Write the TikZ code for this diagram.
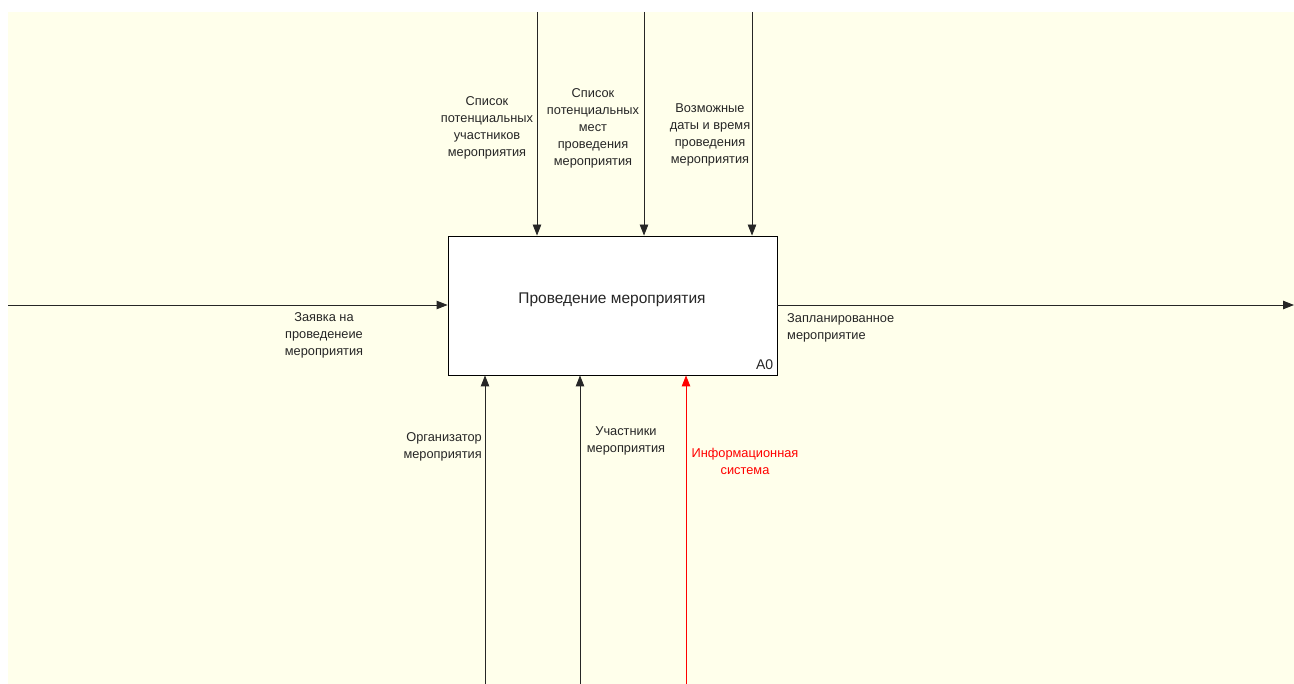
\documentclass[tikz,border=0pt]{standalone}
\usepackage{fontspec}
\setmainfont{Liberation Sans}
\usetikzlibrary{arrows.meta}
\definecolor{paper}{HTML}{FFFFEB}
\definecolor{idefred}{HTML}{FF0000}
\begin{document}
\begin{tikzpicture}[x=1pt,y=-1pt,
  lbl/.style={font=\fontsize{12.8}{17}\selectfont, text=black!85, inner sep=0pt, align=center},
  flow/.style={draw=black!85, line width=0.9pt, -{Triangle[length=11pt,width=8.5pt]}},
  func/.style={draw=black, line width=0.9pt, fill=white, minimum width=329pt, minimum height=139pt, inner sep=0pt}]
  \useasboundingbox (0,0) rectangle (1294,684);
  \fill[white] (0,0) rectangle (1294,684);
  \fill[paper] (8,12) rectangle (1294,684);

  % function block
  \node[func] (a0) at (612.5,305.5) {};
  \node[lbl, font=\fontsize{15.5}{17}\selectfont] (title) at (612,300) {Проведение мероприятия};
  \node[lbl, anchor=south east, font=\fontsize{14}{16}\selectfont] (num) at ([xshift=-4pt,yshift=6pt]a0.south east) {A0};

  % free ends of the arrows
  \coordinate (ctl1) at (537,12);
  \coordinate (ctl2) at (644,12);
  \coordinate (ctl3) at (752,12);
  \coordinate (mec1) at (485,684);
  \coordinate (mec2) at (580,684);
  \coordinate (mec3) at (686,684);
  \coordinate (inp) at (8,305);
  \coordinate (out) at (1294,305);

  % controls
  \draw[flow] (ctl1) -- (ctl1 |- a0.north);
  \draw[flow] (ctl2) -- (ctl2 |- a0.north);
  \draw[flow] (ctl3) -- (ctl3 |- a0.north);
  % mechanisms
  \draw[flow] (mec1) -- (mec1 |- a0.south);
  \draw[flow] (mec2) -- (mec2 |- a0.south);
  \draw[flow, draw=idefred, -{Triangle[length=11pt,width=8.5pt,fill=idefred]}] (mec3) -- (mec3 |- a0.south);
  % input and output
  \draw[flow] (inp) -- (inp -| a0.west);
  \draw[flow] (a0.east |- out) -- (out);

  % labels
  \node[lbl] (l1) at (487,128) {Список\\потенциальных\\участников\\мероприятия};
  \node[lbl] (l2) at (593,128) {Список\\потенциальных\\мест\\проведения\\мероприятия};
  \node[lbl] (l3) at (710,135) {Возможные\\даты и время\\проведения\\мероприятия};
  \node[lbl] (l4) at (324,335) {Заявка на\\проведенеие\\мероприятия};
  \node[lbl, align=left, anchor=west] (l5) at (787,328) {Запланированное\\мероприятие};
  \node[lbl, align=right, anchor=east] (l6) at (482,447) {Организатор\\мероприятия};
  \node[lbl] (l7) at (626,441) {Участники\\мероприятия};
  \node[lbl, text=idefred] (l8) at (745,461) {Информационная\\система};
\end{tikzpicture}
\end{document}
